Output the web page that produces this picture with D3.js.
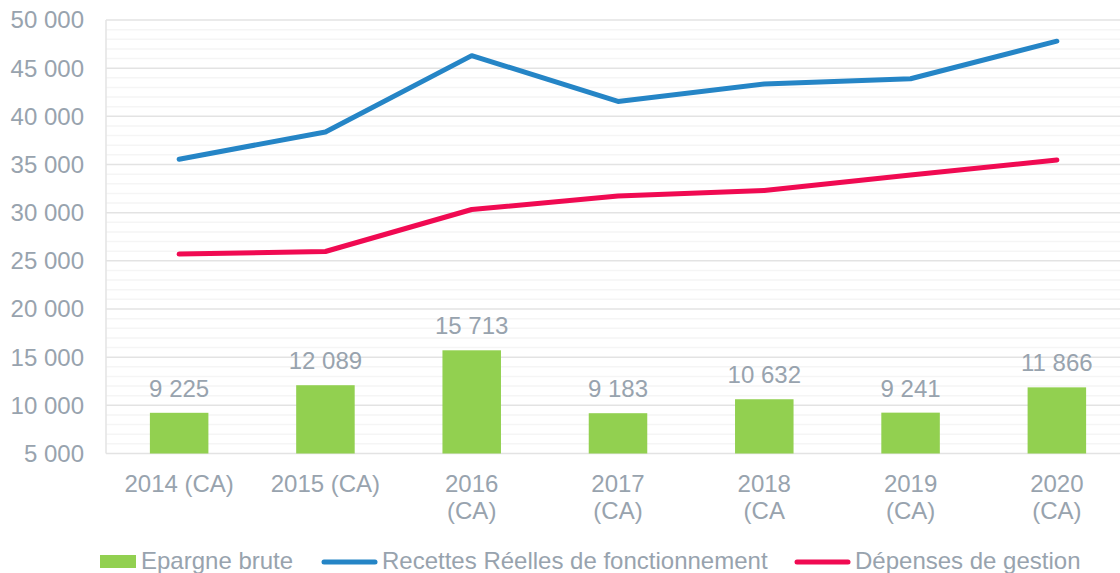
<!DOCTYPE html>
<html>
<head>
<meta charset="utf-8">
<script src="https://cdn.jsdelivr.net/npm/d3@7"></script>
<style>
  body { margin: 0; background: #fff; }
  text { font-family: "Liberation Sans", Arial, sans-serif; fill: #98a3ae; }
</style>
</head>
<body>
<div id="chart"></div>
<script>
var categories = [["2014 (CA)"], ["2015 (CA)"], ["2016", "(CA)"], ["2017", "(CA)"], ["2018", "(CA"], ["2019", "(CA)"], ["2020", "(CA)"]];
var epargne = [9225, 12089, 15713, 9183, 10632, 9241, 11866];
var recettes = [35550, 38380, 46300, 41550, 43350, 43900, 47800];
var depenses = [25700, 25970, 30330, 31730, 32300, 33900, 35470];
var yTicks = [5000, 10000, 15000, 20000, 25000, 30000, 35000, 40000, 45000, 50000];

var width = 1120, height = 573;
var margin = {top: 20, left: 106, bottom: 453.5};
var plotRight = 1130;
var fs = "24px";

var svg = d3.select("#chart").append("svg")
    .attr("width", width)
    .attr("height", height);

var x = d3.scaleBand()
    .domain(d3.range(categories.length))
    .range([margin.left, plotRight])
    .paddingInner(0.6)
    .paddingOuter(0.3);

var y = d3.scaleLinear()
    .domain([5000, 50000])
    .range([margin.bottom, margin.top]);

var fmt = function(v) { return d3.format(",")(v).replace(/,/g, " "); };

// minor grid
svg.append("g")
    .selectAll("line")
    .data(d3.range(6000, 50000, 1000).filter(function(d) { return d % 5000 !== 0; }))
    .enter().append("line")
    .attr("x1", margin.left).attr("x2", width)
    .attr("y1", function(d) { return y(d); }).attr("y2", function(d) { return y(d); })
    .attr("stroke", "#f5f5f5").attr("stroke-width", 1.5);

// major grid
svg.append("g")
    .selectAll("line")
    .data(yTicks)
    .enter().append("line")
    .attr("x1", margin.left).attr("x2", width)
    .attr("y1", function(d) { return y(d); }).attr("y2", function(d) { return y(d); })
    .attr("stroke", "#e3e3e3").attr("stroke-width", 1.5);

// left axis line
svg.append("line")
    .attr("x1", margin.left).attr("x2", margin.left)
    .attr("y1", margin.top).attr("y2", margin.bottom)
    .attr("stroke", "#e3e3e3").attr("stroke-width", 1.5);

// y tick labels
svg.append("g")
    .selectAll("text")
    .data(yTicks)
    .enter().append("text")
    .attr("x", 84)
    .attr("y", function(d) { return y(d); })
    .attr("dy", "0.35em")
    .attr("text-anchor", "end")
    .style("font-size", fs)
    .text(fmt);

// bars
svg.append("g")
    .selectAll("rect")
    .data(epargne)
    .enter().append("rect")
    .attr("x", function(d, i) { return x(i); })
    .attr("width", x.bandwidth())
    .attr("y", function(d) { return y(d); })
    .attr("height", function(d) { return y(5000) - y(d); })
    .attr("fill", "#92d050");

// bar labels
svg.append("g")
    .selectAll("text")
    .data(epargne)
    .enter().append("text")
    .attr("x", function(d, i) { return x(i) + x.bandwidth() / 2; })
    .attr("y", function(d) { return y(d) - 16; })
    .attr("text-anchor", "middle")
    .style("font-size", fs)
    .text(fmt);

var line = d3.line()
    .x(function(d, i) { return x(i) + x.bandwidth() / 2; })
    .y(function(d) { return y(d); });

svg.append("path")
    .datum(recettes)
    .attr("d", line)
    .attr("fill", "none")
    .attr("stroke", "#2585c6")
    .attr("stroke-width", 5)
    .attr("stroke-linecap", "round")
    .attr("stroke-linejoin", "round");

svg.append("path")
    .datum(depenses)
    .attr("d", line)
    .attr("fill", "none")
    .attr("stroke", "#f00a52")
    .attr("stroke-width", 5)
    .attr("stroke-linecap", "round")
    .attr("stroke-linejoin", "round");

// x labels
var xl = svg.append("g")
    .selectAll("text")
    .data(categories)
    .enter().append("text")
    .attr("x", function(d, i) { return x(i) + x.bandwidth() / 2; })
    .attr("y", 492)
    .attr("text-anchor", "middle")
    .style("font-size", fs);
xl.selectAll("tspan")
    .data(function(d) { return d; })
    .enter().append("tspan")
    .attr("x", function() { return d3.select(this.parentNode).attr("x"); })
    .attr("dy", function(d, i) { return i === 0 ? 0 : 26.5; })
    .text(function(d) { return d; });

// legend
var legend = svg.append("g");
legend.append("rect")
    .attr("x", 100).attr("y", 555).attr("width", 36).attr("height", 13)
    .attr("fill", "#92d050");
legend.append("text").attr("x", 141).attr("y", 569).style("font-size", fs).text("Epargne brute");

legend.append("line")
    .attr("x1", 324).attr("x2", 375).attr("y1", 562).attr("y2", 562)
    .attr("stroke", "#2585c6").attr("stroke-width", 5).attr("stroke-linecap", "round");
legend.append("text").attr("x", 382).attr("y", 569).style("font-size", fs).text("Recettes Réelles de fonctionnement");

legend.append("line")
    .attr("x1", 797).attr("x2", 848).attr("y1", 562).attr("y2", 562)
    .attr("stroke", "#f00a52").attr("stroke-width", 5).attr("stroke-linecap", "round");
legend.append("text").attr("x", 855).attr("y", 569).style("font-size", fs).text("Dépenses de gestion");
</script>
</body>
</html>
